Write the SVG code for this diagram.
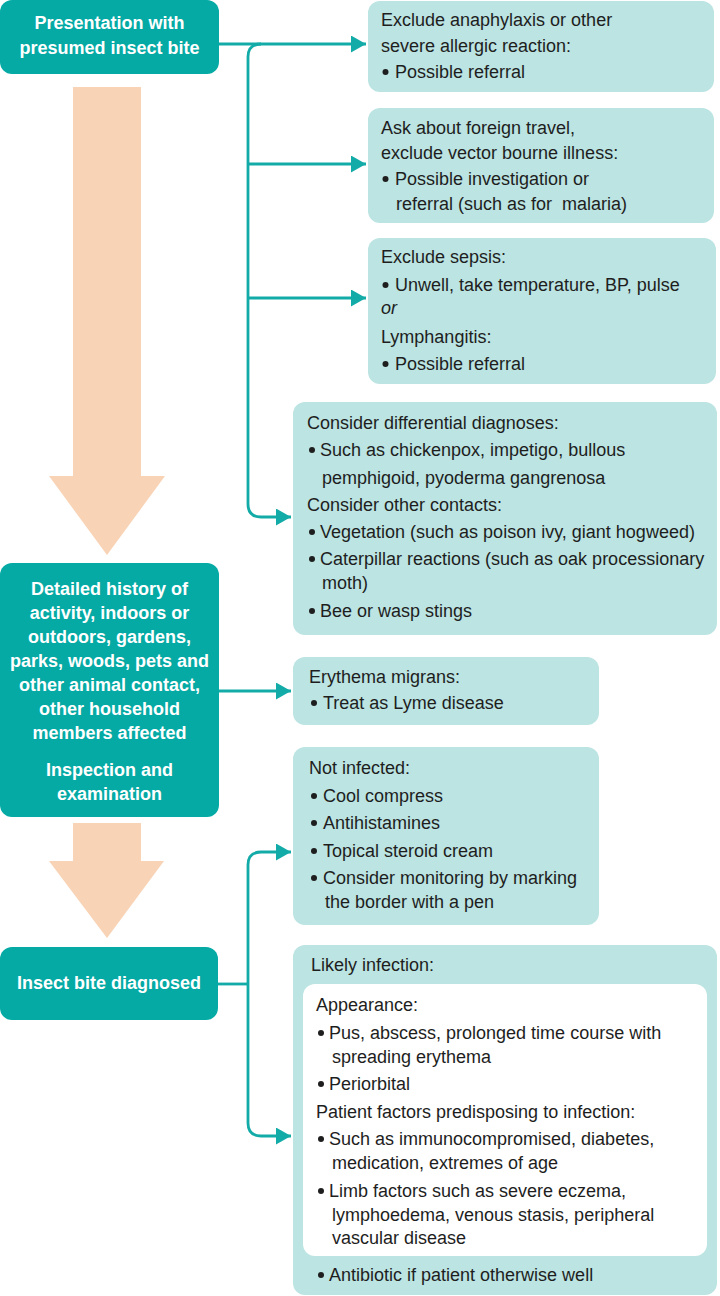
<svg xmlns="http://www.w3.org/2000/svg" width="720" height="1296" viewBox="0 0 720 1296">
<defs>
<style>
.dark{fill:#05aaa5}
.light{fill:#bbe4e2}
.inner{fill:#ffffff}
.peach{fill:#f9d3b5}
.nt{font-family:"Liberation Sans",Arial,sans-serif;font-size:18px;font-weight:bold;fill:#ffffff;text-anchor:middle}
.bt{font-family:"Liberation Sans",Arial,sans-serif;font-size:18px;fill:#1e1e1e}
.it{font-style:italic}
.bul{fill:#1e1e1e}
.con{fill:none;stroke:#13aba7;stroke-width:2.8}
</style>
<marker id="ah" markerWidth="16" markerHeight="18" refX="15" refY="8.5" orient="auto" markerUnits="userSpaceOnUse">
<path d="M0,0 L15,8.5 L0,17 Z" fill="#13aba7"/>
</marker>
</defs>
<rect width="720" height="1296" fill="#ffffff"/>

<g id="flow-arrows">
<path class="peach" d="M73,87 L141,87 L141,476 L165,476 L107,555 L49,476 L73,476 Z"/>
<path class="peach" d="M73,823 L141,823 L141,861 L164,861 L107,938 L49,861 L73,861 Z"/>
</g>

<g id="connectors">
<path class="con" d="M219,44 L366,44" marker-end="url(#ah)"/>
<path class="con" d="M261,44 Q248,44 248,57 L248,504 Q248,517 261,517 L291,517" marker-end="url(#ah)"/>
<path class="con" d="M248,164 L366,164" marker-end="url(#ah)"/>
<path class="con" d="M248,298 L366,298" marker-end="url(#ah)"/>
<path class="con" d="M219,691 L291,691" marker-end="url(#ah)"/>
<path class="con" d="M218,984 L248,984"/>
<path class="con" d="M248,984 L248,865 Q248,852 261,852 L291,852" marker-end="url(#ah)"/>
<path class="con" d="M248,984 L248,1123 Q248,1136 261,1136 L291,1136" marker-end="url(#ah)"/>
</g>

<g id="node-presentation">
<rect class="dark" x="0" y="0" width="219" height="74" rx="12"/>
<text class="nt" x="109.5" y="29">Presentation with</text>
<text class="nt" x="109.5" y="54">presumed insect bite</text>
</g>

<g id="node-anaphylaxis">
<rect class="light" x="368" y="1" width="346" height="91" rx="12"/>
<text class="bt" x="381" y="26">Exclude anaphylaxis or other</text>
<text class="bt" x="381" y="52">severe allergic reaction:</text>
<circle class="bul" cx="385.5" cy="72" r="3"/>
<text class="bt" x="395" y="78">Possible referral</text>
</g>

<g id="node-travel">
<rect class="light" x="368" y="108" width="346" height="115" rx="12"/>
<text class="bt" x="381" y="134">Ask about foreign travel,</text>
<text class="bt" x="381" y="159">exclude vector bourne illness:</text>
<circle class="bul" cx="385.5" cy="179" r="3"/>
<text class="bt" x="395" y="185">Possible investigation or</text>
<text class="bt" x="396" y="210" xml:space="preserve">referral (such as for  malaria)</text>
</g>

<g id="node-sepsis">
<rect class="light" x="368" y="238" width="348" height="146" rx="12"/>
<text class="bt" x="381" y="263">Exclude sepsis:</text>
<circle class="bul" cx="385.5" cy="285" r="3"/>
<text class="bt" x="395" y="291">Unwell, take temperature, BP, pulse</text>
<text class="bt it" x="381" y="314">or</text>
<text class="bt" x="381" y="343">Lymphangitis:</text>
<circle class="bul" cx="385.5" cy="364" r="3"/>
<text class="bt" x="395" y="370">Possible referral</text>
</g>

<g id="node-differential">
<rect class="light" x="293" y="402" width="424" height="233" rx="12"/>
<text class="bt" x="307" y="429">Consider differential diagnoses:</text>
<circle class="bul" cx="312" cy="450" r="3"/>
<text class="bt" x="320" y="456">Such as chickenpox, impetigo, bullous</text>
<text class="bt" x="322" y="484">pemphigoid, pyoderma gangrenosa</text>
<text class="bt" x="307" y="511">Consider other contacts:</text>
<circle class="bul" cx="312" cy="532" r="3"/>
<text class="bt" x="320" y="538">Vegetation (such as poison ivy, giant hogweed)</text>
<circle class="bul" cx="312" cy="559" r="3"/>
<text class="bt" x="320" y="565">Caterpillar reactions (such as oak processionary</text>
<text class="bt" x="322" y="589">moth)</text>
<circle class="bul" cx="312" cy="611" r="3"/>
<text class="bt" x="320" y="617">Bee or wasp stings</text>
</g>

<g id="node-history">
<rect class="dark" x="0" y="563" width="219" height="254" rx="12"/>
<text class="nt" x="109.5" y="595">Detailed history of</text>
<text class="nt" x="109.5" y="619">activity, indoors or</text>
<text class="nt" x="109.5" y="643">outdoors, gardens,</text>
<text class="nt" x="109.5" y="667">parks, woods, pets and</text>
<text class="nt" x="109.5" y="691">other animal contact,</text>
<text class="nt" x="109.5" y="715">other household</text>
<text class="nt" x="109.5" y="739">members affected</text>
<text class="nt" x="109.5" y="776">Inspection and</text>
<text class="nt" x="109.5" y="800">examination</text>
</g>

<g id="node-erythema">
<rect class="light" x="293" y="657" width="306" height="68" rx="12"/>
<text class="bt" x="309" y="683">Erythema migrans:</text>
<circle class="bul" cx="314" cy="703" r="3"/>
<text class="bt" x="323" y="709">Treat as Lyme disease</text>
</g>

<g id="node-not-infected">
<rect class="light" x="293" y="747" width="306" height="178" rx="12"/>
<text class="bt" x="309" y="774">Not infected:</text>
<circle class="bul" cx="314" cy="796" r="3"/>
<text class="bt" x="323" y="802">Cool compress</text>
<circle class="bul" cx="314" cy="823" r="3"/>
<text class="bt" x="323" y="829">Antihistamines</text>
<circle class="bul" cx="314" cy="851" r="3"/>
<text class="bt" x="323" y="857">Topical steroid cream</text>
<circle class="bul" cx="314" cy="878" r="3"/>
<text class="bt" x="323" y="884">Consider monitoring by marking</text>
<text class="bt" x="325" y="908">the border with a pen</text>
</g>

<g id="node-diagnosed">
<rect class="dark" x="0" y="947" width="218" height="73" rx="12"/>
<text class="nt" x="109" y="989">Insect bite diagnosed</text>
</g>

<g id="node-likely-infection">
<rect class="light" x="293" y="945" width="424" height="350" rx="12"/>
<text class="bt" x="311" y="971">Likely infection:</text>
<rect class="inner" x="303" y="984" width="404" height="272" rx="12"/>
<text class="bt" x="316" y="1011">Appearance:</text>
<circle class="bul" cx="321" cy="1033" r="3"/>
<text class="bt" x="329" y="1039">Pus, abscess, prolonged time course with</text>
<text class="bt" x="332" y="1063">spreading erythema</text>
<circle class="bul" cx="321" cy="1084" r="3"/>
<text class="bt" x="329" y="1090">Periorbital</text>
<text class="bt" x="316" y="1118">Patient factors predisposing to infection:</text>
<circle class="bul" cx="321" cy="1139" r="3"/>
<text class="bt" x="329" y="1145">Such as immunocompromised, diabetes,</text>
<text class="bt" x="332" y="1169">medication, extremes of age</text>
<circle class="bul" cx="321" cy="1191" r="3"/>
<text class="bt" x="329" y="1197">Limb factors such as severe eczema,</text>
<text class="bt" x="332" y="1221">lymphoedema, venous stasis, peripheral</text>
<text class="bt" x="332" y="1244">vascular disease</text>
<circle class="bul" cx="321" cy="1275" r="3"/>
<text class="bt" x="329" y="1281">Antibiotic if patient otherwise well</text>
</g>
</svg>
